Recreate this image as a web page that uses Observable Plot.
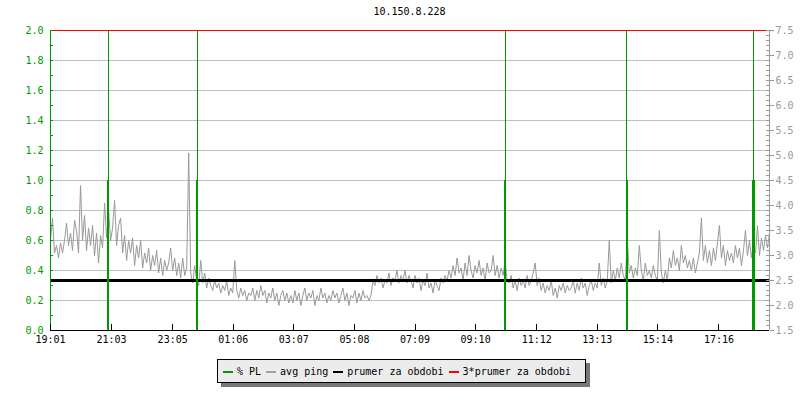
<!DOCTYPE html>
<html>
<head>
<meta charset="utf-8">
<script src="https://cdn.jsdelivr.net/npm/d3@7"></script>
<script src="https://cdn.jsdelivr.net/npm/@observablehq/plot@0.6"></script>
<style>
  html, body { margin: 0; padding: 0; background: #fff; }
  body { width: 800px; height: 400px; position: relative; overflow: hidden; font-family: "DejaVu Sans Mono", monospace; font-size: 10px; }
  #title { position: absolute; left: 50px; width: 719px; top: 6px; text-align: center; color: #000; }
  #chart { position: absolute; left: 0; top: 0; }
  #legend { position: absolute; left: 217px; top: 359px; width: 362px; height: 22px; border: 1px solid #000; background: #ececec; box-shadow: 4px 4px 0 #777; display: flex; align-items: center; padding-left: 5px; box-sizing: content-box; white-space: pre; }
  .sw { display: inline-block; width: 10px; height: 2px; margin-right: 4px; position: relative; top: 1px; }
  .it { margin-right: 5px; display: inline-flex; align-items: center; }
</style>
</head>
<body>
<div id="title"></div>
<div id="chart"></div>
<div id="legend"></div>
<script>
const titleText = "10.150.8.228";
const startTime = "19:01";
const pingStepMin = 4;
const endMinute = 1436;
const xTickLabels = ["19:01","21:03","23:05","01:06","03:07","05:08","07:09","09:10","11:12","13:13","15:14","17:16"];
const plTimes = ["20:56","23:54","10:09","14:12","18:25"];
const plValues = [1.0, 1.0, 1.0, 1.0, 1.0];
const plTicks = [0,0.2,0.4,0.6,0.8,1.0,1.2,1.4,1.6,1.8,2.0];
const pingTicks = [1.5,2.0,2.5,3.0,3.5,4.0,4.5,5.0,5.5,6.0,6.5,7.0,7.5];
const pingMean = 2.5;
const pingAxisMin = 1.5;
const pingAxisMax = 7.5;
const pingMs = [
  3.3, 3.75, 3.05, 3.2, 2.95, 3.25, 3.05, 3.3, 3.65, 3.2, 3.45, 3.1, 3.7, 3.5, 3.05, 4.4, 3.3, 3.8, 3.1, 3.55,
  3.2, 3.6, 3.0, 3.45, 2.85, 3.4, 3.15, 4.05, 3.35, 3.9, 3.3, 3.55, 4.1, 3.2, 3.6, 3.75, 3.05, 3.4, 2.9, 3.3,
  3.05, 3.35, 2.8, 3.2, 2.95, 3.3, 2.75, 3.05, 2.85, 3.15, 2.7, 3.0, 2.8, 3.1, 2.65, 2.95, 2.6, 2.9, 2.7, 2.85,
  3.15, 2.7, 2.95, 2.6, 2.85, 2.55, 2.95, 2.6, 2.75, 5.05, 2.65, 2.45, 2.8, 2.5, 2.4, 2.9, 2.45, 2.65, 2.35, 2.55,
  2.4, 2.3, 2.5, 2.35, 2.45, 2.25, 2.4, 2.3, 2.5, 2.2, 2.35, 2.25, 2.9, 2.3, 2.15, 2.35, 2.2, 2.3, 2.1, 2.25,
  2.2, 2.35, 2.1, 2.3, 2.15, 2.4, 2.2, 2.3, 2.05, 2.25, 2.15, 2.35, 2.1, 2.25, 2.0, 2.2, 2.3, 2.1, 2.25, 2.05,
  2.2, 2.05, 2.3, 2.1, 2.25, 2.0, 2.2, 2.35, 2.1, 2.25, 2.15, 2.3, 2.0, 2.2, 2.1, 2.35, 2.15, 2.25, 2.05, 2.2,
  2.1, 2.3, 2.15, 2.25, 2.05, 2.2, 2.35, 2.1, 2.25, 2.0, 2.2, 2.15, 2.3, 2.05, 2.25, 2.1, 2.3, 2.15, 2.2, 2.1,
  2.2, 2.5, 2.4, 2.6, 2.45, 2.55, 2.35, 2.5, 2.45, 2.65, 2.4, 2.55, 2.5, 2.7, 2.45, 2.6, 2.5, 2.7, 2.45, 2.6,
  2.5, 2.35, 2.6, 2.45, 2.55, 2.3, 2.5, 2.4, 2.65, 2.35, 2.45, 2.25, 2.5, 2.4, 2.3, 2.55, 2.45, 2.6, 2.5, 2.7,
  2.55, 2.8, 2.6, 2.95, 2.65, 2.75, 2.5, 2.85, 2.6, 3.0, 2.7, 2.55, 2.8, 2.65, 2.9, 2.6, 2.75, 2.5, 2.85, 2.65,
  2.7, 3.0, 2.6, 2.8, 2.55, 2.75, 2.6, 2.9, 2.5, 2.45, 2.6, 2.35, 2.5, 2.3, 2.55, 2.4, 2.5, 2.35, 2.6, 2.4,
  2.5, 2.65, 2.85, 2.4, 2.55, 2.3, 2.45, 2.25, 2.4, 2.3, 2.5, 2.2, 2.35, 2.15, 2.4, 2.3, 2.45, 2.25, 2.4, 2.3,
  2.35, 2.5, 2.25, 2.45, 2.3, 2.55, 2.35, 2.45, 2.2, 2.4, 2.5, 2.3, 2.45, 2.35, 2.85, 2.4, 2.55, 2.35, 2.5, 3.3,
  2.45, 2.7, 2.5, 2.75, 2.55, 2.85, 2.6, 2.5, 3.3, 2.65, 2.8, 2.55, 2.75, 2.6, 3.2, 2.7, 2.5, 2.85, 2.6, 2.7,
  2.55, 2.8, 2.6, 2.5, 3.5, 2.65, 2.45, 2.7, 2.5, 2.95, 2.75, 3.1, 2.8, 2.95, 2.7, 3.2, 2.85, 3.0, 2.75, 2.9,
  2.7, 2.95, 2.65, 2.85, 3.05, 3.75, 2.9, 3.2, 2.85, 3.1, 2.8, 3.15, 2.9, 3.25, 3.6, 2.95, 3.2, 2.8, 3.1, 2.9,
  3.05, 2.85, 3.2, 2.95, 3.15, 2.8, 3.1, 3.5, 3.0, 3.3, 2.95, 3.25, 3.05, 3.6, 3.0, 3.35, 3.1, 3.4, 3.15, 3.45
];
const legendItems = [
  {label: "% PL", color: "#009900"},
  {label: "avg ping", color: "#a0a0a0"},
  {label: "prumer za obdobi", color: "#000000"},
  {label: "3*prumer za obdobi", color: "#ff0000"}
];

const GREEN = "#009900", GRAY = "#999999", GRID = "#c0c0c0", RED = "#ff0000";
const toMin = s => { const [h, m] = s.split(":").map(Number); const [h0, m0] = startTime.split(":").map(Number); return ((h * 60 + m) - (h0 * 60 + m0) + 1440) % 1440; };
const plMax = plTicks[plTicks.length - 1];
const pingToY = ms => (ms - pingAxisMin) / (pingAxisMax - pingAxisMin) * plMax;
const yToPing = y => pingAxisMin + y / plMax * (pingAxisMax - pingAxisMin);

const pingData = pingMs.map((v, i) => ({t: i * pingStepMin, v}));
const plData = plTimes.map((s, i) => ({t: toMin(s), v: plValues[i]}));
const xTicks = xTickLabels.map(toMin);
const labelAt = new Map(xTickLabels.map(s => [toMin(s), s]));
const minorPL = d3.range(0, 21).map(i => i / 10 * plMax / 2);
const minorPing = d3.range(0, 61).map(i => pingToY(pingAxisMin + i * 0.1));
const gridVals = plTicks.filter(v => v > 0 && v < plMax);
const crisp = {shapeRendering: "crispEdges"};

document.getElementById("title").textContent = titleText;

const plot = Plot.plot({
  width: 800,
  height: 345,
  marginLeft: 50,
  marginRight: 31,
  marginTop: 30,
  marginBottom: 15,
  style: {fontFamily: "DejaVu Sans Mono, monospace", fontSize: "10px", overflow: "visible", background: "transparent"},
  x: {domain: [0, endMinute], range: [50, 769], axis: null},
  y: {domain: [0, plMax], range: [330, 30], axis: null},
  marks: [
    Plot.ruleY(gridVals, {stroke: GRID, strokeWidth: 1, ...crisp}),
    Plot.line(pingData, {x: "t", y: d => pingToY(d.v), stroke: GRAY, strokeWidth: 1}),
    Plot.ruleY([pingToY(pingMean)], {stroke: "#000", strokeWidth: 3, ...crisp}),
    Plot.ruleX(plData, {x: "t", y1: 0, y2: plMax, stroke: GREEN, strokeWidth: 1, ...crisp}),
    Plot.ruleX(plData, {x: "t", y1: 0, y2: "v", stroke: GREEN, strokeWidth: 2.5, ...crisp}),
    Plot.ruleY([pingToY(pingMean * 3)], {stroke: RED, strokeWidth: 1, ...crisp}),
    // left axis
    Plot.ruleX([0], {y1: 0, y2: plMax, stroke: GREEN, ...crisp}),
    Plot.ruleY(minorPL, {x1: 0, x2: 6, stroke: GREEN, ...crisp}),
    Plot.axisY({ticks: plTicks, tickFormat: d3.format(".1f"), tickSize: 0, tickPadding: 7, fill: GREEN, anchor: "left", label: null}),
    // right axis
    Plot.ruleX([endMinute], {y1: 0, y2: plMax, stroke: GRAY, ...crisp}),
    Plot.ruleY(minorPing, {x1: endMinute - 6, x2: endMinute, stroke: GRAY, ...crisp}),
    Plot.axisY({ticks: pingTicks.map(pingToY), tickFormat: d => yToPing(d).toFixed(1), tickSize: 4, tickPadding: 2, stroke: GRAY, fill: GRAY, anchor: "right", label: null, ...crisp}),
    // bottom axis
    Plot.ruleY([0], {stroke: "#000", strokeWidth: 1, ...crisp}),
    Plot.ruleX(xTicks, {y1: 0, y2: 0.04, stroke: "#000", ...crisp}),
    Plot.axisX({ticks: xTicks, tickFormat: d => labelAt.get(d), tickSize: 0, tickPadding: 5, fill: "#000", anchor: "bottom", label: null})
  ]
});
document.getElementById("chart").appendChild(plot);

const lg = document.getElementById("legend");
for (const it of legendItems) {
  const s = document.createElement("span");
  s.className = "it";
  s.innerHTML = `<span class="sw" style="background:${it.color}"></span>`;
  s.appendChild(document.createTextNode(it.label));
  lg.appendChild(s);
}
</script>
</body>
</html>
